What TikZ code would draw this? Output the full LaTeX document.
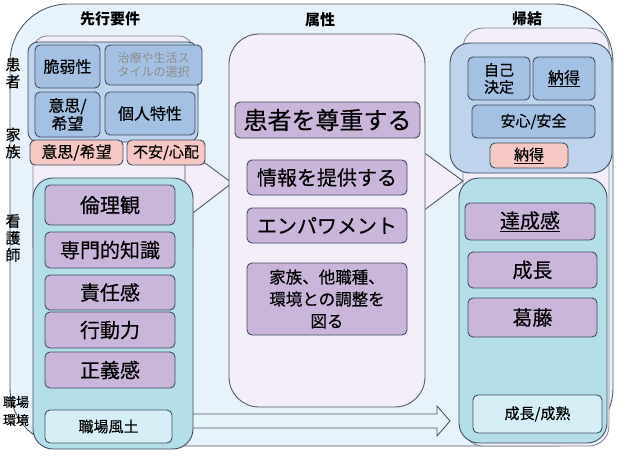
\documentclass[tikz,border=0pt]{standalone}
\usepackage{fontspec}
\setmainfont{Noto Sans CJK JP}
\newfontfamily\medfont{Noto Sans CJK JP}[FakeBold=0.4]
\usepackage{xcolor}
\usetikzlibrary{positioning, shapes, calc}

\definecolor{outerbg}{RGB}{231,242,250}
\definecolor{lavbg}{RGB}{244,238,248}
\definecolor{bluepanel}{RGB}{190,211,236}
\definecolor{bluebx}{RGB}{164,193,228}
\definecolor{pinkbx}{RGB}{246,200,196}
\definecolor{tealpanel}{RGB}{180,222,232}
\definecolor{cyanbx}{RGB}{214,239,246}
\definecolor{purpbx}{RGB}{202,182,218}
\definecolor{edge}{RGB}{62,78,96}
\definecolor{frame}{RGB}{80,90,100}

\begin{document}
\begin{tikzpicture}[x=1pt, y=-1pt,
    panel/.style={draw=edge, line width=0.9pt, rounded corners=#1},
    box/.style={draw=edge, line width=0.9pt, rounded corners=5pt, align=center, inner sep=1pt},
    wh/.style 2 args={minimum width=#1pt, minimum height=#2pt},
    purplebox/.style={box, fill=purpbx, font=\medfont\fontsize{20}{22}\selectfont},
    bluebox/.style={box, fill=bluebx, font=\medfont\fontsize{16}{18}\selectfont},
    pinkbox/.style={box, fill=pinkbx, font=\medfont\fontsize{15}{17}\selectfont},
    cyanbox/.style={box, fill=cyanbx, font=\medfont\fontsize{15}{17}\selectfont},
    title/.style={font=\bfseries\fontsize{15}{17}\selectfont},
    side/.style={font=\medfont\fontsize{15}{17}\selectfont, align=center, inner sep=0pt}
]
    \useasboundingbox (0,0) rectangle (627,474);

    % frame and back panels
    \draw[panel=58pt, draw=frame, fill=outerbg] (10,4) rectangle (613,446);
    \draw[panel=14pt, draw=frame!70, fill=lavbg] (33,36) rectangle (193,260);
    \draw[panel=20pt, draw=frame!70, fill=lavbg] (463,28) rectangle (609,446);
    \draw[draw=frame, line width=0.9pt, fill=lavbg] (185,148) -- (232,183) -- (185,219) -- cycle;
    \draw[draw=frame, line width=0.9pt, fill=lavbg] (415,146) -- (463,181) -- (415,217) -- cycle;
    \draw[draw=frame, line width=0.9pt, fill=cyanbx!60] (180,414) -- (437,414) -- (437,406)
        -- (450,421) -- (437,436) -- (437,428) -- (180,428);

    \node[title] (sensei) at (110,19) {先行要件};
    \node[title] (zokusei) at (320,20) {属性};
    \node[title] (kiketsu) at (527,19) {帰結};

    % left column
    \draw[panel=10pt, fill=bluepanel] (28,42) rectangle (198,142);
    \node[bluebox, wh={65}{43}] (zeijaku) at (67.5,66.5) {脆弱性};
    \node[bluebox, wh={97}{40}, text=black!45, font=\fontsize{12}{14}\selectfont] (chiryo) at (153.5,65) {治療や生活ス\\タイルの選択};
    \node[bluebox, wh={65}{45}] (ishi) at (67.5,114.5) {意思/\\希望};
    \node[bluebox, wh={90}{43}] (kojin) at (150,113.5) {個人特性};
    \node[pinkbox, wh={93}{25}, font=\medfont\fontsize{16}{18}\selectfont] (kishi) at (76.5,152.5) {意思/希望};
    \node[pinkbox, wh={78}{25}] (fuan) at (166,152.5) {不安/心配};

    \draw[panel=20pt, fill=tealpanel] (33,178) rectangle (193,449);
    \node[purplebox, wh={130}{40}] (rinri) at (110,205) {倫理観};
    \node[purplebox, wh={130}{36}] (senmon) at (110,250) {専門的知識};
    \node[purplebox, wh={130}{35}] (sekinin) at (110,292.5) {責任感};
    \node[purplebox, wh={130}{36}] (kodo) at (110,330) {行動力};
    \node[purplebox, wh={130}{36}] (seigi) at (110,370) {正義感};
    \node[cyanbox, wh={127}{33}] (fudo) at (108.5,426.5) {職場風土};

    \node[side] (kanja) at (13,73) {患\\者};
    \node[side] (kazoku) at (13,143) {家\\族};
    \node[side] (kangoshi) at (13,238) {看\\護\\師};
    \node[side, font=\medfont\fontsize{13}{18}\selectfont] (shokuba) at (16,411) {職場\\環境};

    % middle column
    \draw[panel=30pt, draw=frame, fill=lavbg] (229,34) rectangle (425,407);
    \node[purplebox, wh={185}{36}, font=\medfont\fontsize{24}{26}\selectfont] (sonchou) at (327.5,120) {患者を尊重する};
    \node[purplebox, wh={160}{35}] (joho) at (327,177.5) {情報を提供する};
    \node[purplebox, wh={160}{35}] (empower) at (327,225.5) {エンパワメント};
    \node[purplebox, wh={160}{72}, font=\medfont\fontsize{16.5}{22}\selectfont] (chosei) at (327,299) {家族、他職種、\\環境との調整を\\図る};

    % right column
    \draw[panel=20pt, fill=bluepanel] (450,43) rectangle (612,173);
    \node[bluebox, wh={62}{43}, font=\medfont\fontsize{15}{17}\selectfont] (jiko) at (499,78.5) {自己\\決定};
    \node[bluebox, wh={62}{43}] (nattoku) at (564,78.5) {\underline{納得}};
    \node[bluebox, wh={123}{33}, font=\medfont\fontsize{15}{17}\selectfont] (anshin) at (533.5,121.5) {安心/安全};
    \node[pinkbox, wh={78}{25}] (knattoku) at (529,155.5) {\underline{納得}};

    \draw[panel=20pt, fill=tealpanel] (459,178) rectangle (607,443);
    \node[purplebox, wh={130}{37}] (tassei) at (530,221.5) {\underline{達成感}};
    \node[purplebox, wh={129}{36}] (seicho) at (532.5,270) {成長};
    \node[purplebox, wh={129}{39}] (katto) at (532.5,317.5) {葛藤};
    \node[cyanbox, wh={129}{38}] (seijuku) at (537.5,414) {成長/成熟};
\end{tikzpicture}
\end{document}
